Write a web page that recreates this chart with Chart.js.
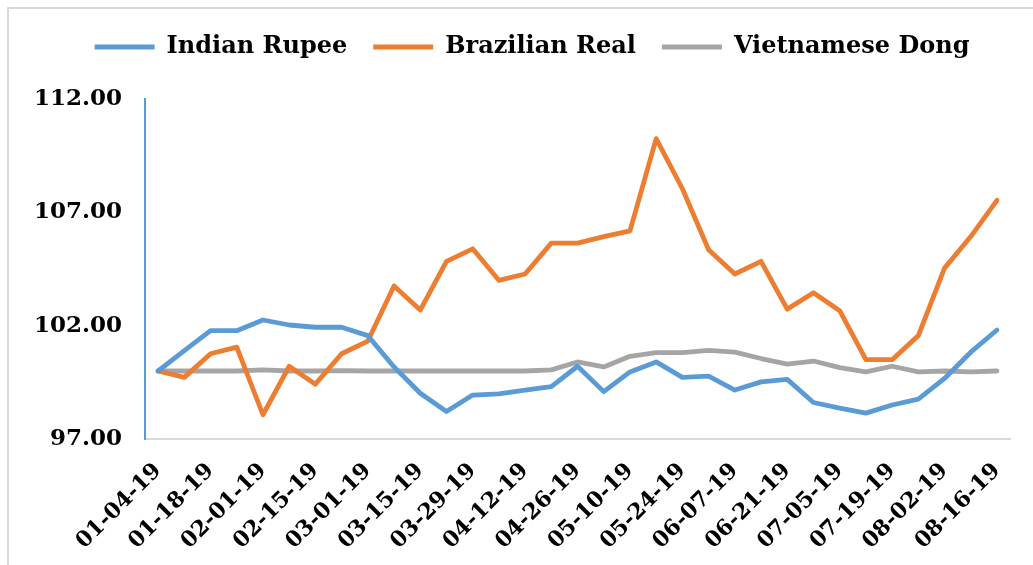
<!DOCTYPE html>
<html>
<head>
<meta charset="utf-8">
<script src="https://cdn.jsdelivr.net/npm/chart.js@4"></script>
<style>
body{margin:0;background:#fff;overflow:hidden;}
#box{position:absolute;left:7px;top:7px;width:1026px;height:556px;border-left:2px solid #d9d9d9;border-top:2px solid #d9d9d9;background:#fff;}
</style>
</head>
<body>
<div id="box"><canvas id="grafica"></canvas></div>
<script>
// weekly dates
const fechas = ["01-04-19","01-11-19","01-18-19","01-25-19","02-01-19","02-08-19","02-15-19","02-22-19",
"03-01-19","03-08-19","03-15-19","03-22-19","03-29-19","04-05-19","04-12-19","04-19-19",
"04-26-19","05-03-19","05-10-19","05-17-19","05-24-19","05-31-19","06-07-19","06-14-19",
"06-21-19","06-28-19","07-05-19","07-12-19","07-19-19","07-26-19","08-02-19","08-09-19","08-16-19"];

const rupia = [100,100.9,101.78,101.78,102.25,102.03,101.93,101.93,101.56,100.18,99.02,98.21,98.94,98.99,99.16,99.31,
100.21,99.09,99.96,100.4,99.72,99.77,99.16,99.52,99.63,98.61,98.36,98.14,98.5,98.76,99.67,100.83,101.81];

const real = [100,99.72,100.76,101.05,98.07,100.21,99.42,100.76,101.32,103.75,102.69,104.84,105.39,104.0,104.28,105.64,
105.64,105.93,106.18,110.25,108.04,105.35,104.28,104.84,102.73,103.45,102.66,100.5,100.5,101.56,104.54,105.93,107.53];

const dong = [100,100,100,100,100.05,100,100,100.02,100,100,100,100,100,100,100,100.05,
100.4,100.18,100.65,100.81,100.81,100.91,100.83,100.55,100.3,100.44,100.15,99.96,100.21,99.96,100.0,99.96,100.0];

const yTicks = [97,102,107,112];

const fuente = "'DejaVu Serif', serif";

function serie(label, data, color){
return {
label:label,
data:data,
borderColor:color,
backgroundColor:color,
borderWidth:4.8,
pointRadius:0,
tension:0,
borderCapStyle:"round",
borderJoinStyle:"round"
};
}

/* leyenda: espacio extra abajo y un poco a la derecha */
const legendaAjuste = {
id:"legendaAjuste",
beforeInit(chart){
const fitOrig = chart.legend.fit;
chart.legend.fit = function(){
fitOrig.bind(chart.legend)();
this.height += 30;
};
},
afterLayout(chart){
chart.legend.left += 13;
chart.legend.right += 13;
}
};

new Chart(document.getElementById("grafica"), {
type:"line",
data:{
labels:fechas,
datasets:[
serie("Indian Rupee", rupia, "#5B9BD5"),
serie("Brazilian Real", real, "#ED7D31"),
serie("Vietnamese Dong", dong, "#A5A5A5")
]
},
plugins:[legendaAjuste],
options:{
responsive:true,
maintainAspectRatio:false,
animation:false,
layout:{padding:{left:18,right:24,top:0,bottom:0}},
plugins:{
legend:{
position:"top",
labels:{
usePointStyle:true,
pointStyle:"line",
pointStyleWidth:60,
boxHeight:20,
padding:26,
color:"#000",
font:{family:fuente,size:24,weight:"bold"}
}
},
tooltip:{enabled:false}
},
scales:{
x:{
offset:true,
grid:{display:false,drawTicks:false},
border:{display:true,color:"#d9d9d9",width:2},
afterFit:(s)=>{ s.height = 126; },
ticks:{
autoSkip:false,
minRotation:45,
maxRotation:45,
padding:19,
color:"#000",
font:{family:fuente,size:22,weight:"bold"},
callback:(v,i)=> i % 2 === 0 ? fechas[i] : ""
}
},
y:{
min:97,
max:112,
afterFit:(s)=>{ s.width = 118; },
afterBuildTicks:(s)=>{ s.ticks = yTicks.map(v=>({value:v})); },
grid:{display:false,drawTicks:false},
border:{display:true,color:"#5B9BD5",width:2},
ticks:{
padding:23,
color:"#000",
font:{family:fuente,size:23,weight:"bold"},
callback:(v)=>v.toFixed(2)
}
}
}
}
});
</script>
</body>
</html>
